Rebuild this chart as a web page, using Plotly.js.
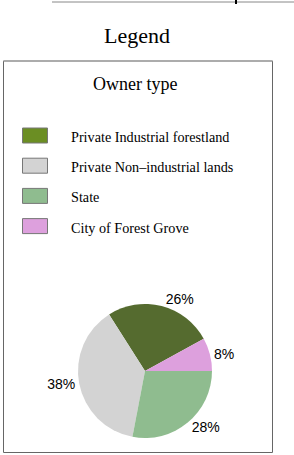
<!DOCTYPE html>
<html>
<head>
<meta charset="utf-8">
<script src="https://cdn.plot.ly/plotly-3.0.1.min.js"></script>
<style>html,body{margin:0;padding:0;background:#fff;}#chart{width:294px;height:455px;}</style>
</head>
<body>
<div id="chart"></div>
<script>
// Data (legend order)
var categories = ["Private Industrial forestland", "Private Non\u2013industrial lands", "State", "City of Forest Grove"];
var shares = [26, 38, 28, 8];
var sliceColors = ["#556b2f", "#d3d3d3", "#8fbc8f", "#dda0dd"];
var swatchColors = ["#6b8e23", "#d3d3d3", "#8fbc8f", "#dda0dd"];
var chartTitle = "Legend";
var legendTitle = "Owner type";

var W = 294, H = 455;
function px(x){ return x / W; }
function py(y){ return 1 - y / H; }

var cx = 145, cy = 371, r = 67;
var total = shares.reduce(function(a,b){return a+b;},0);
var lastShare = shares[shares.length-1];

var trace = {
  type: "pie",
  labels: categories,
  values: shares,
  sort: false,
  direction: "counterclockwise",
  // City of Forest Grove slice starts at 3 o'clock, slices run counterclockwise
  rotation: 90 - 360 * (shares[0] + lastShare) / total,
  marker: {colors: sliceColors, line: {width: 0}},
  textinfo: "percent",
  textposition: "outside",
  outsidetextfont: {family: "Liberation Sans, Arial, sans-serif", size: 14, color: "#000"},
  hoverinfo: "none",
  showlegend: false,
  domain: {x: [px(cx - r), px(cx + r)], y: [py(cy + r), py(cy - r)]}
};

var serif = "Liberation Serif, Times New Roman, serif";
var shapes = [
  // top artifact line
  {type: "line", xref: "paper", yref: "paper", x0: px(52), x1: px(294), y0: py(2), y1: py(2), line: {color: "#888", width: 1}},
  {type: "line", xref: "paper", yref: "paper", x0: px(236), x1: px(236), y0: py(0), y1: py(4), line: {color: "#000", width: 2}},
  // legend box
  {type: "rect", xref: "paper", yref: "paper", x0: px(3.5), x1: px(272.5), y0: py(452.5), y1: py(61), line: {color: "#666", width: 1}, fillcolor: "rgba(0,0,0,0)"},
  {type: "line", xref: "paper", yref: "paper", x0: px(3.5), x1: px(272.5), y0: py(61), y1: py(61), line: {color: "#aaa", width: 1.5}}
];
var annotations = [
  {text: chartTitle, xref: "paper", yref: "paper", x: px(137), y: py(36), xanchor: "center", yanchor: "middle", showarrow: false,
   font: {family: serif, size: 22, color: "#000"}},
  {text: legendTitle, xref: "paper", yref: "paper", x: px(135), y: py(84), xanchor: "center", yanchor: "middle", showarrow: false,
   font: {family: serif, size: 18, color: "#000"}}
];
var rowTop = 128, rowStep = 30.2;
categories.forEach(function(c, i){
  var t = rowTop + i * rowStep;
  shapes.push({type: "rect", xref: "paper", yref: "paper", x0: px(22.5), x1: px(47.5), y0: py(t + 15), y1: py(t),
    fillcolor: swatchColors[i], line: {color: "#777", width: 1}});
  annotations.push({text: c, xref: "paper", yref: "paper", x: px(69), y: py(t + 9), xanchor: "left", yanchor: "middle", showarrow: false,
    font: {family: serif, size: 14.2, color: "#000"}});
});

var layout = {
  width: W, height: H,
  margin: {l: 0, r: 0, t: 0, b: 0},
  paper_bgcolor: "#fff",
  plot_bgcolor: "#fff",
  showlegend: false,
  shapes: shapes,
  annotations: annotations
};
Plotly.newPlot("chart", [trace], layout, {staticPlot: true, displayModeBar: false});
</script>
</body>
</html>
